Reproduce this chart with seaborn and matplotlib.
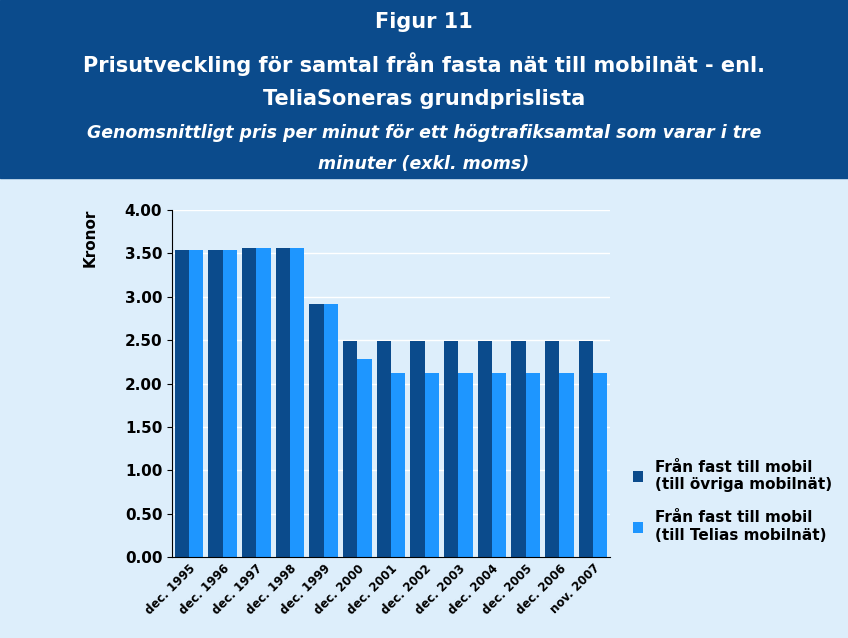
import matplotlib
matplotlib.use("Agg")
import matplotlib.pyplot as plt
import seaborn as sns
import pandas as pd

categories = ["dec. 1995","dec. 1996","dec. 1997","dec. 1998","dec. 1999","dec. 2000","dec. 2001",
              "dec. 2002","dec. 2003","dec. 2004","dec. 2005","dec. 2006","nov. 2007"]
ovriga = [3.54,3.54,3.56,3.56,2.92,2.49,2.49,2.49,2.49,2.49,2.49,2.49,2.49]
telia = [3.54,3.54,3.56,3.56,2.92,2.28,2.12,2.12,2.12,2.12,2.12,2.12,2.12]
s1 = "Från fast till mobil\n(till övriga mobilnät)"
s2 = "Från fast till mobil\n(till Telias mobilnät)"

df = pd.DataFrame({"cat": categories*2, "val": ovriga+telia,
                   "serie": [s1]*len(categories)+[s2]*len(categories)})

bg = "#DDEEFB"
fig = plt.figure(figsize=(8.48,6.38), dpi=100, facecolor=bg)
fig.patches.append(plt.Rectangle((0,1-178/638),1,178/638, transform=fig.transFigure, color="#0B4B8C", zorder=0))
fig.text(0.5,1-22/638,"Figur 11",ha="center",va="center",color="white",fontsize=15,fontweight="bold")
fig.text(0.5,1-64/638,"Prisutveckling för samtal från fasta nät till mobilnät - enl.",ha="center",va="center",color="white",fontsize=15,fontweight="bold")
fig.text(0.5,1-99/638,"TeliaSoneras grundprislista",ha="center",va="center",color="white",fontsize=15,fontweight="bold")
fig.text(0.5,1-133/638,"Genomsnittligt pris per minut för ett högtrafiksamtal som varar i tre",ha="center",va="center",color="white",fontsize=12.5,fontweight="bold",style="italic")
fig.text(0.5,1-164/638,"minuter (exkl. moms)",ha="center",va="center",color="white",fontsize=12.5,fontweight="bold",style="italic")

ax = fig.add_axes([172/848, 1-557/638, (610-172)/848, (557-210)/638])
ax.set_facecolor(bg)
sns.barplot(data=df, x="cat", y="val", hue="serie", palette=["#0B4B8C","#1E96FF"], width=0.85, ax=ax, saturation=1)
ax.set_ylim(0,4)
ax.set_yticks([i*0.5 for i in range(9)])
ax.set_yticklabels([f"{i*0.5:.2f}" for i in range(9)], fontsize=11, fontweight="bold")
ax.yaxis.grid(True, color="white", lw=1)
ax.set_axisbelow(True)
ax.set_xlabel("")
ax.set_ylabel("Kronor", fontsize=11, fontweight="bold")
ax.yaxis.set_label_coords(-0.17, 0.92)
ax.set_xticks(range(len(categories)))
ax.set_xticklabels(categories, rotation=45, ha="right", fontsize=8.5, fontweight="bold", rotation_mode="anchor")
for sp in ["top","right"]:
    ax.spines[sp].set_visible(False)
ax.tick_params(axis="x", length=0)
leg = ax.legend(loc="upper left", bbox_to_anchor=(1.02, 0.32), frameon=False, fontsize=11,
                handlelength=0.7, handleheight=0.7, labelspacing=1.2, prop={"weight":"bold","size":11})
fig.savefig("out.png", dpi=100, facecolor=bg)
